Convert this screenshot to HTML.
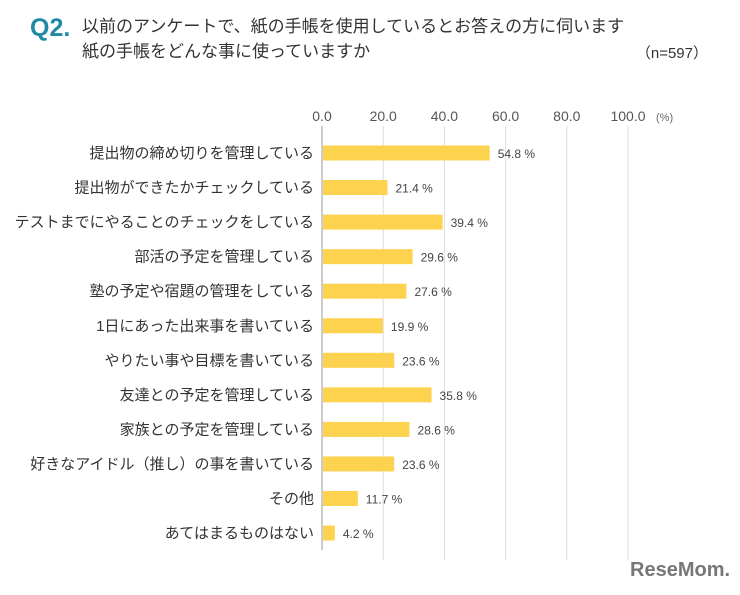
<!DOCTYPE html>
<html><head><meta charset="utf-8"><style>
body{margin:0;background:#fff;width:740px;height:590px;overflow:hidden;font-family:"Liberation Sans","Noto Sans CJK JP",sans-serif;}
svg text{font-family:"Liberation Sans","Noto Sans CJK JP",sans-serif;}
</style></head><body>
<svg id="chart" width="740" height="590" xmlns="http://www.w3.org/2000/svg">
<text x="30" y="36" font-size="25" fill="#1f8aa6" font-weight="bold">Q2.</text>
<text x="82" y="32" font-size="17" fill="#333">以前のアンケートで、紙の手帳を使用しているとお答えの方に伺います</text>
<text x="82" y="57" font-size="17" fill="#333">紙の手帳をどんな事に使っていますか</text>
<text x="708" y="58" font-size="15" fill="#333" text-anchor="end">（n=597）</text>
<g id="grid"></g><g id="bars"></g>
<text x="630" y="576" font-size="20" font-weight="bold" fill="#777">ReseMom.</text>
</svg>
<script>
const categories=["提出物の締め切りを管理している","提出物ができたかチェックしている","テストまでにやることのチェックをしている","部活の予定を管理している","塾の予定や宿題の管理をしている","1日にあった出来事を書いている","やりたい事や目標を書いている","友達との予定を管理している","家族との予定を管理している","好きなアイドル（推し）の事を書いている","その他","あてはまるものはない"];
const values=[54.8,21.4,39.4,29.6,27.6,19.9,23.6,35.8,28.6,23.6,11.7,4.2];
const ticks=[0,20,40,60,80,100];
const NS="http://www.w3.org/2000/svg";
const x0=322,x1=628,yTop=153,step=34.55;
const xs=v=>x0+(x1-x0)*v/100;
const ys=i=>yTop+i*step;
function mk(t,a,p){const e=document.createElementNS(NS,t);for(const k in a)e.setAttribute(k,a[k]);p.appendChild(e);return e;}
const g=document.getElementById('grid'),b=document.getElementById('bars');
ticks.forEach(t=>{
 const l=mk('line',{x1:xs(t),x2:xs(t),y1:126,y2:t===0?550:560,stroke:t===0?'#999':'#ddd','stroke-width':1},g);
 
 
 const tx=mk('text',{x:xs(t),y:121,'font-size':14,fill:'#555','text-anchor':'middle'},g);tx.textContent=t.toFixed(1);
 
 
});
const u=mk('text',{x:656,y:121,'font-size':11,fill:'#666'},g);u.textContent='(%)';


categories.forEach((c,i)=>{
 const y=ys(i);
 const r=mk('rect',{x:x0+1,y:y-7.5,width:xs(values[i])-x0-1,height:15,fill:'#fdd24f'},b);
 
 
 const lb=mk('text',{x:314,y:y+5,'font-size':15,fill:'#333','text-anchor':'end'},b);lb.textContent=c;
 
 
 const v=mk('text',{x:xs(values[i])+8,y:y+5,'font-size':12,fill:'#444'},b);v.textContent=values[i].toFixed(1)+' %';
 
 
});
</script>
</body></html>
